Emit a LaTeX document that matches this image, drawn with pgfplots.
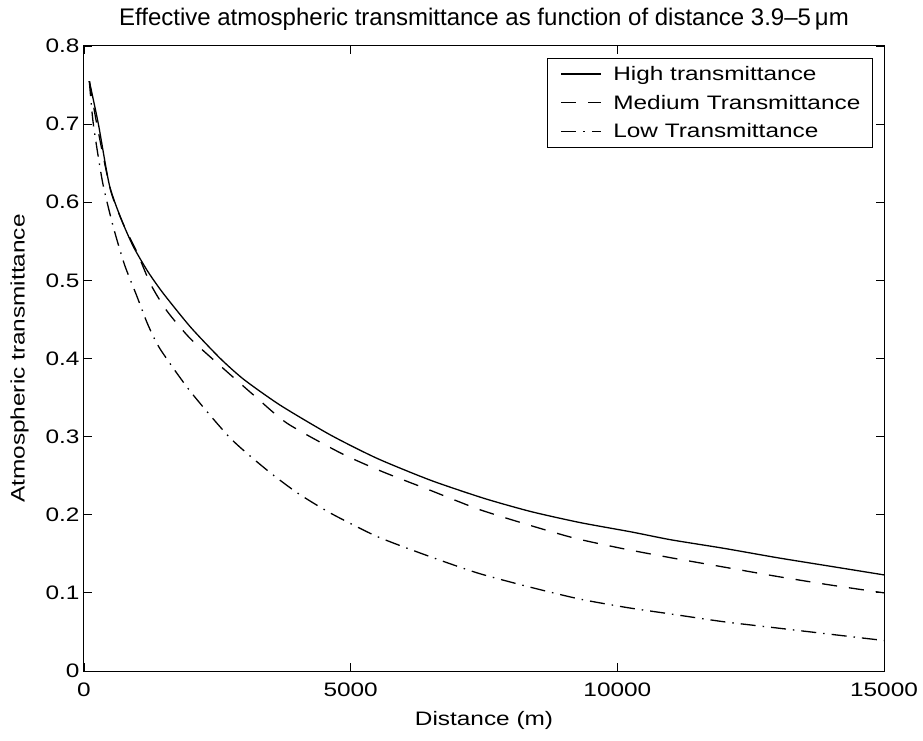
\documentclass[border=0pt]{standalone}
\usepackage{fontspec}
\setmainfont[FakeStretch=1.25]{Liberation Sans}
\newfontfamily\titlefont{Liberation Sans}
\usepackage{pgfplots}
\pgfplotsset{compat=1.18}
\begin{document}
\begin{tikzpicture}[x=1pt,y=1pt]
\begin{axis}[
  at={(0pt,0pt)}, anchor=south west,
  scale only axis, width=800pt, height=625pt,
  xmin=0, xmax=15000, ymin=0, ymax=0.8,
  xtick={0,5000,10000,15000},
  ytick={0,0.1,0.2,0.3,0.4,0.5,0.6,0.7,0.8},
  yticklabels={0,0.1,0.2,0.3,0.4,0.5,0.6,0.7,0.8},
  scaled x ticks=false,
  xticklabel style={/pgf/number format/1000 sep={}, yshift=-8pt},
  yticklabel style={xshift=-1pt},
  /pgf/number format/assume math mode=true,
  tick align=inside, major tick length=8pt,
  tick style={black, line width=0.9pt},
  axis line style={line width=1pt},
  ticklabel style={font=\fontsize{19.5}{22}\selectfont},
  title={Effective atmospheric transmittance as function of distance 3.9\textendash5\,μm},
  title style={font=\titlefont\fontsize{24}{26}\selectfont, yshift=6pt},
  xlabel={Distance (m)}, ylabel={Atmospheric transmittance},
  label style={font=\fontsize{19.5}{22}\selectfont},
  xlabel style={yshift=-8pt},
  ylabel style={yshift=10pt},
  legend style={at={(rel axis cs:0.986,0.981)}, anchor=north east,
    font=\fontsize{19.5}{22}\selectfont, draw=black, line width=0.9pt,
    row sep=9pt, inner xsep=10pt, inner ysep=6pt},
  legend cell align=left,
  legend image code/.code={\path[draw=none] (0pt,0pt) -- (54pt,0pt); \draw[#1] (4pt,0pt) -- (44pt,0pt);},
]
\addplot[black, no marks, solid, line width=1.3pt, smooth, tension=0.4] coordinates {
(100,0.755) (270,0.700) (476,0.622) (700,0.578) (927,0.543) (1200,0.511) (1490,0.483)
(2000,0.440) (2556,0.400) (3000,0.373) (3684,0.340) (4624,0.302) (5500,0.272)
(6504,0.244) (7500,0.221) (8383,0.204) (9300,0.190) (10263,0.178) (11000,0.168)
(12000,0.157) (13000,0.145) (14000,0.134) (15000,0.123)};
\addlegendentry{High transmittance}
\addplot[black, no marks, line width=1.3pt, dash pattern=on 15pt off 12pt, smooth, tension=0.4] coordinates {
(100,0.755) (240,0.700) (500,0.615) (750,0.570) (1000,0.535) (1250,0.495) (1553,0.461)
(2000,0.425) (2682,0.383) (3200,0.352) (3810,0.317) (4812,0.279) (5600,0.255)
(6504,0.231) (7400,0.207) (8383,0.186) (9200,0.170) (10075,0.157) (11000,0.145)
(12000,0.133) (13000,0.121) (14000,0.110) (15000,0.100)};
\addlegendentry{Medium Transmittance}
\addplot[black, no marks, line width=1.3pt, dash pattern=on 15pt off 7pt on 1.5pt off 7pt, smooth, tension=0.4] coordinates {
(100,0.755) (175,0.700) (350,0.625) (551,0.568) (760,0.520) (990,0.480) (1200,0.443) (1429,0.412)
(1992,0.358) (2744,0.298) (3434,0.257) (4000,0.228) (4624,0.202) (5500,0.172)
(6504,0.146) (7400,0.125) (8383,0.107) (9300,0.092) (10200,0.081) (11000,0.073)
(12000,0.063) (13000,0.055) (14000,0.047) (15000,0.039)};
\addlegendentry{Low Transmittance}
\end{axis}
\path[use as bounding box] (-84pt,-70pt) rectangle (839pt,671pt);
\end{tikzpicture}
\end{document}
